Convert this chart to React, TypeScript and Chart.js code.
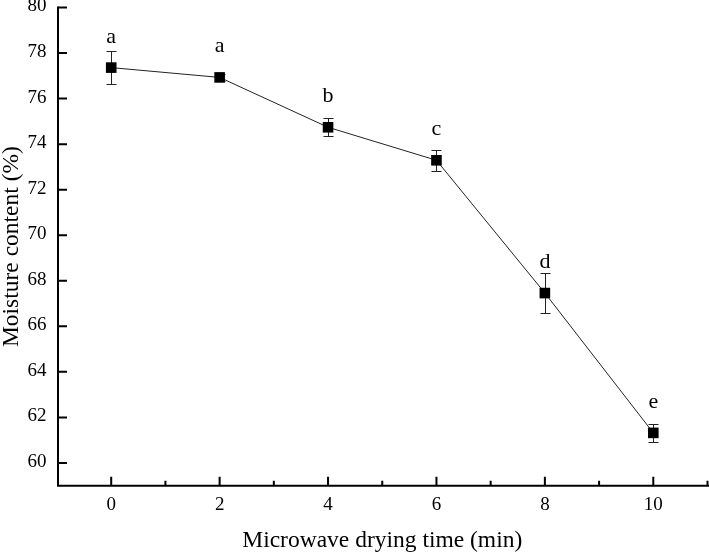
import React, { useEffect, useRef } from 'react';
import { Chart, registerables } from 'chart.js';

Chart.register(...registerables);

// ---- data ----
const times = [0, 2, 4, 6, 8, 10];
const moisture = [77.36, 76.93, 74.74, 73.29, 67.46, 61.32];
const errors = [0.71, 0.15, 0.4, 0.45, 0.89, 0.41];
const letters = ['a', 'a', 'b', 'c', 'd', 'e'];
const yTicks = [60, 62, 64, 66, 68, 70, 72, 74, 76, 78, 80];
const xTicks = [0, 2, 4, 6, 8, 10];
const xMinorTicks = [1, 3, 5, 7, 9, 11];
const xTitle = 'Microwave drying time (min)';
const yTitle = 'Moisture content (%)';

const FONT = '"Liberation Serif", "Times New Roman", serif';
const PLOT_RIGHT = 707.5;

const customPlugin = {
  id: 'customDraw',
  afterLayout(chart: any) {
    const xs = chart.scales.x;
    if (chart.chartArea.right !== PLOT_RIGHT) {
      chart.chartArea.right = PLOT_RIGHT;
      chart.chartArea.width = PLOT_RIGHT - chart.chartArea.left;
      xs.right = PLOT_RIGHT;
      xs.width = PLOT_RIGHT - xs.left;
      xs.configure();
    }
  },
  beforeDatasetsDraw(chart: any) {
    const { ctx } = chart;
    const xs = chart.scales.x;
    const ys = chart.scales.y;
    ctx.save();
    ctx.strokeStyle = '#222';
    ctx.lineWidth = 1;
    times.forEach((t, i) => {
      const px = Math.round(xs.getPixelForValue(t)) + 0.5;
      const top = Math.round(ys.getPixelForValue(moisture[i] + errors[i])) + 0.5;
      const bot = Math.round(ys.getPixelForValue(moisture[i] - errors[i])) + 0.5;
      ctx.beginPath();
      ctx.moveTo(px, top);
      ctx.lineTo(px, bot);
      ctx.moveTo(px - 5, top);
      ctx.lineTo(px + 5, top);
      ctx.moveTo(px - 5, bot);
      ctx.lineTo(px + 5, bot);
      ctx.stroke();
    });
    ctx.restore();
  },
  afterDatasetsDraw(chart: any) {
    const { ctx } = chart;
    const xs = chart.scales.x;
    const ys = chart.scales.y;
    ctx.save();
    ctx.fillStyle = '#000';
    ctx.font = `22px ${FONT}`;
    ctx.textAlign = 'center';
    ctx.textBaseline = 'alphabetic';
    times.forEach((t, i) => {
      const px = xs.getPixelForValue(t);
      const py = ys.getPixelForValue(moisture[i]);
      ctx.fillText(letters[i], px, py - 25);
    });
    ctx.restore();
  },
  afterDraw(chart: any) {
    const { ctx, chartArea } = chart;
    const xs = chart.scales.x;
    const ys = chart.scales.y;
    const left = chartArea.left + 1;
    const bottom = chartArea.bottom;
    ctx.save();
    ctx.strokeStyle = '#000';
    ctx.lineWidth = 2;
    ctx.lineCap = 'butt';
    // axes lines
    ctx.beginPath();
    ctx.moveTo(left, ys.getPixelForValue(80) - 1);
    ctx.lineTo(left, bottom + 1);
    ctx.moveTo(left - 1, bottom);
    ctx.lineTo(xs.getPixelForValue(11) + 2, bottom);
    ctx.stroke();
    // y ticks (inward)
    ctx.beginPath();
    yTicks.forEach((v) => {
      const py = ys.getPixelForValue(v);
      ctx.moveTo(left, py);
      ctx.lineTo(left + 9, py);
    });
    // x major ticks (inward)
    xTicks.forEach((v) => {
      const px = xs.getPixelForValue(v);
      ctx.moveTo(px, bottom);
      ctx.lineTo(px, bottom - 9);
    });
    // x minor ticks
    xMinorTicks.forEach((v) => {
      const px = xs.getPixelForValue(v);
      ctx.moveTo(px, bottom);
      ctx.lineTo(px, bottom - 5);
    });
    ctx.stroke();

    // tick labels
    ctx.fillStyle = '#000';
    ctx.font = `19px ${FONT}`;
    ctx.textBaseline = 'middle';
    ctx.textAlign = 'right';
    yTicks.forEach((v) => {
      ctx.fillText(String(v), left - 11.5, ys.getPixelForValue(v) - 1);
    });
    ctx.textAlign = 'center';
    xTicks.forEach((v) => {
      ctx.fillText(String(v), xs.getPixelForValue(v), bottom + 19.5);
    });
    ctx.restore();
  },
};

export default function App() {
  const canvasRef = useRef<HTMLCanvasElement | null>(null);

  useEffect(() => {
    document.body.style.margin = '0';
    const canvas = canvasRef.current;
    if (!canvas) return;
    const chart = new Chart(canvas, {
      type: 'line',
      data: {
        datasets: [
          {
            data: times.map((t, i) => ({ x: t, y: moisture[i] })),
            borderColor: '#222',
            borderWidth: 1,
            pointStyle: 'rect',
            pointRadius: 7.5,
            pointBackgroundColor: '#000',
            pointBorderColor: '#000',
            pointBorderWidth: 0,
            fill: false,
            tension: 0,
            clip: false,
          },
        ],
      },
      options: {
        responsive: false,
        animation: false,
        devicePixelRatio: 1,
        layout: { padding: { top: 7, right: 1.5, left: 0, bottom: 0 } },
        plugins: {
          legend: { display: false },
          tooltip: { enabled: false },
        },
        scales: {
          x: {
            type: 'linear',
            min: -1,
            max: 11,
            afterBuildTicks: (scale: any) => {
              scale.ticks = xTicks.map((v) => ({ value: v }));
            },
            afterFit: (scale: any) => {
              scale.height = 67.3;
            },
            grid: { display: false, drawTicks: false },
            border: { display: false },
            ticks: { display: false },
            title: {
              display: true,
              text: xTitle,
              color: '#000',
              font: { family: FONT, size: 23.5, lineHeight: 1 },
              padding: { top: 0, bottom: 0.5 },
            },
          },
          y: {
            type: 'linear',
            min: 59,
            max: 80,
            afterBuildTicks: (scale: any) => {
              scale.ticks = yTicks.map((v) => ({ value: v }));
            },
            afterFit: (scale: any) => {
              scale.width = 57;
            },
            grid: { display: false, drawTicks: false },
            border: { display: false },
            ticks: { display: false },
            title: {
              display: true,
              text: yTitle,
              color: '#000',
              font: { family: FONT, size: 23.5, lineHeight: 1 },
              padding: { top: 0, bottom: 0 },
            },
          },
        },
      },
      plugins: [customPlugin],
    });
    return () => chart.destroy();
  }, []);

  return (
    <div style={{ position: 'absolute', left: 0, top: 0, width: 709, height: 553, background: '#fff' }}>
      <canvas ref={canvasRef} width={709} height={553} style={{ display: 'block', width: 709, height: 553 }} />
    </div>
  );
}
